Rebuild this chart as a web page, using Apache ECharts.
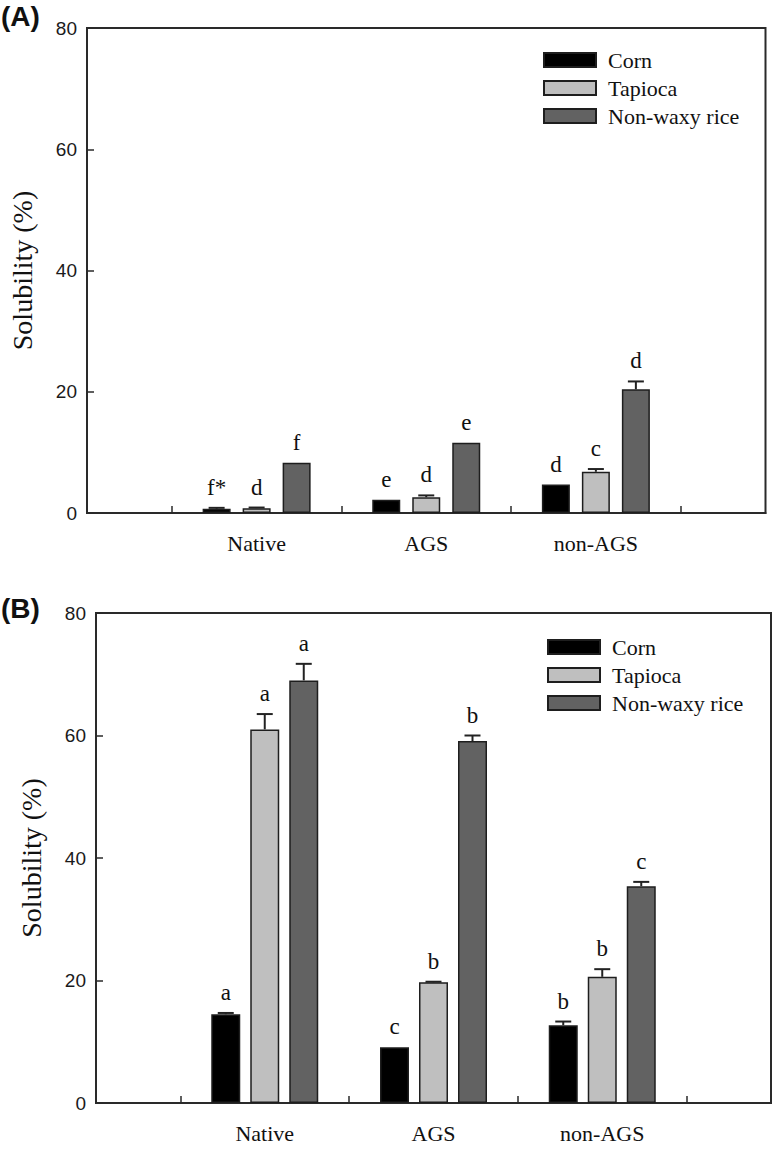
<!DOCTYPE html>
<html><head><meta charset="utf-8">
<script src="https://cdn.jsdelivr.net/npm/echarts@6/dist/echarts.min.js"></script>
<style>html,body{margin:0;padding:0;background:#fff}#c{width:777px;height:1152px}</style>
</head><body><div id="c"></div>
<script>
// ---------- data ----------
const categories = ['Native', 'AGS', 'non-AGS'];
const seriesNames = ['Corn', 'Tapioca', 'Non-waxy rice'];
const yTickValues = [0, 20, 40, 60, 80];

// Panel (A)
const cornA = [0.7, 2.2, 4.7];
const tapiocaA = [0.8, 2.6, 6.8];
const riceA = [8.3, 11.6, 20.4];
const cornErrA = [0.15, 0, 0];
const tapiocaErrA = [0.1, 0.3, 0.45];
const riceErrA = [0, 0, 1.3];
const cornLettersA = ['f*', 'e', 'd'];
const tapiocaLettersA = ['d', 'd', 'c'];
const riceLettersA = ['f', 'e', 'd'];

// Panel (B)
const cornB = [14.5, 9.1, 12.7];
const tapiocaB = [61.0, 19.7, 20.6];
const riceB = [69.0, 59.1, 35.4];
const cornErrB = [0.2, 0, 0.6];
const tapiocaErrB = [2.5, 0.1, 1.25];
const riceErrB = [2.7, 0.9, 0.7];
const cornLettersB = ['a', 'c', 'b'];
const tapiocaLettersB = ['a', 'b', 'b'];
const riceLettersB = ['a', 'b', 'c'];

// ---------- styles ----------
const colors = ['#000000', '#bfbfbf', '#626262'];
const SERIF = 'Liberation Serif, Times New Roman, serif';
const SANS = 'Liberation Sans, Arial, Helvetica, sans-serif';
const AXIS_COLOR = '#2a2a2a';

const panels = [
  { vals: [cornA, tapiocaA, riceA], errs: [cornErrA, tapiocaErrA, riceErrA],
    letters: [cornLettersA, tapiocaLettersA, riceLettersA],
    grid: { left: 86, top: 28, width: 679.5, height: 485 }, barW: 28, gap: 12,
    legend: { left: 543, top: 49 }, title: { text: '(A)', left: 1, top: 2 } },
  { vals: [cornB, tapiocaB, riceB], errs: [cornErrB, tapiocaErrB, riceErrB],
    letters: [cornLettersB, tapiocaLettersB, riceLettersB],
    grid: { left: 96, top: 613, width: 675, height: 490 }, barW: 29, gap: 10,
    legend: { left: 547, top: 636 }, title: { text: '(B)', left: 1, top: 594 } }
];

// category slots: an empty half-space on each side of the three groups
const slotData = [''].concat(categories, ['']);
const tickBands = new Array(categories.length + 1).fill('');
const pad = arr => ['-'].concat(arr, ['-']);

const option = {
  backgroundColor: '#fff',
  animation: false,
  title: [], grid: [], xAxis: [], yAxis: [], legend: [], series: []
};

panels.forEach((p, pi) => {
  option.title.push({ text: p.title.text, left: p.title.left, top: p.title.top, padding: 0,
    textStyle: { fontFamily: SANS, fontWeight: 'bold', fontSize: 28, color: '#111' } });
  option.grid.push(Object.assign({ show: true, borderColor: AXIS_COLOR, borderWidth: 2,
    backgroundColor: 'transparent', containLabel: false }, p.grid));
  // main category axis (bars + labels)
  option.xAxis.push({
    type: 'category', gridIndex: pi, data: slotData, boundaryGap: false,
    axisLine: { show: true, lineStyle: { color: AXIS_COLOR, width: 2 } },
    axisTick: { show: false },
    axisLabel: { interval: 0, margin: 19, fontFamily: SERIF, fontSize: 22, color: '#111' },
    splitLine: { show: false }
  });
  // helper axis: ticks between groups
  option.xAxis.push({
    type: 'category', gridIndex: pi, data: tickBands, boundaryGap: true, position: 'bottom',
    axisLine: { show: false },
    axisTick: { show: true, alignWithLabel: true, inside: true, length: 7,
      lineStyle: { color: AXIS_COLOR, width: 1.5 } },
    axisLabel: { show: false }, splitLine: { show: false }
  });
  option.yAxis.push({
    type: 'value', gridIndex: pi, min: yTickValues[0], max: yTickValues[yTickValues.length - 1],
    interval: yTickValues[1] - yTickValues[0],
    name: 'Solubility (%)', nameLocation: 'middle', nameGap: 51,
    nameTextStyle: { fontFamily: SERIF, fontSize: 28, color: '#111' },
    axisLine: { show: true, lineStyle: { color: AXIS_COLOR, width: 2 } },
    axisTick: { show: true, inside: true, length: 7, lineStyle: { color: AXIS_COLOR, width: 1.5 } },
    axisLabel: { margin: 10, fontFamily: SANS, fontSize: 19, color: '#1a1a1a' },
    splitLine: { show: false }
  });
  option.legend.push({
    orient: 'vertical', left: p.legend.left, top: p.legend.top, padding: 0,
    itemWidth: 52, itemHeight: 14, itemGap: 6, icon: 'rect',
    data: seriesNames,
    textStyle: { fontFamily: SERIF, fontSize: 22, color: '#111', padding: [0, 0, 0, 7] }
  });
  const xMain = pi * 2;
  seriesNames.forEach((name, si) => {
    option.series.push({
      type: 'bar', name: name, xAxisIndex: xMain, yAxisIndex: pi,
      data: pad(p.vals[si]), barWidth: p.barW, barGap: (p.gap / p.barW * 100) + '%',
      itemStyle: { color: colors[si], borderColor: '#1e1e1e', borderWidth: 1.5 },
      emphasis: { disabled: true }
    });
  });
  seriesNames.forEach((name, si) => {
    const letters = p.letters[si];
    option.series.push({
      type: 'custom', name: name, xAxisIndex: xMain, yAxisIndex: pi, z: 5,
      data: categories.map((c, i) => [i + 1, p.vals[si][i], p.errs[si][i]]),
      renderItem: function (params, api) {
        const slot = api.value(0), mean = api.value(1), err = api.value(2);
        const base = api.coord([slot, mean]);
        const top = api.coord([slot, mean + err]);
        const x = base[0] + (si - 1) * (p.barW + p.gap);
        const children = [];
        if (err > 0) {
          children.push({ type: 'line', shape: { x1: x, y1: base[1], x2: x, y2: top[1] },
            style: { stroke: '#222', lineWidth: 2 } });
          children.push({ type: 'line', shape: { x1: x - 8, y1: top[1], x2: x + 8, y2: top[1] },
            style: { stroke: '#222', lineWidth: 2 } });
        }
        children.push({ type: 'text', x: x, y: top[1] - 9,
          style: { text: letters[params.dataIndex], fontFamily: SERIF, fontSize: 23,
            fill: '#111', align: 'center', verticalAlign: 'bottom' } });
        return { type: 'group', children: children };
      }
    });
  });
});

const chart = echarts.init(document.getElementById('c'), null, { renderer: 'svg', width: 777, height: 1152 });
chart.setOption(option);
</script>
</body></html>
